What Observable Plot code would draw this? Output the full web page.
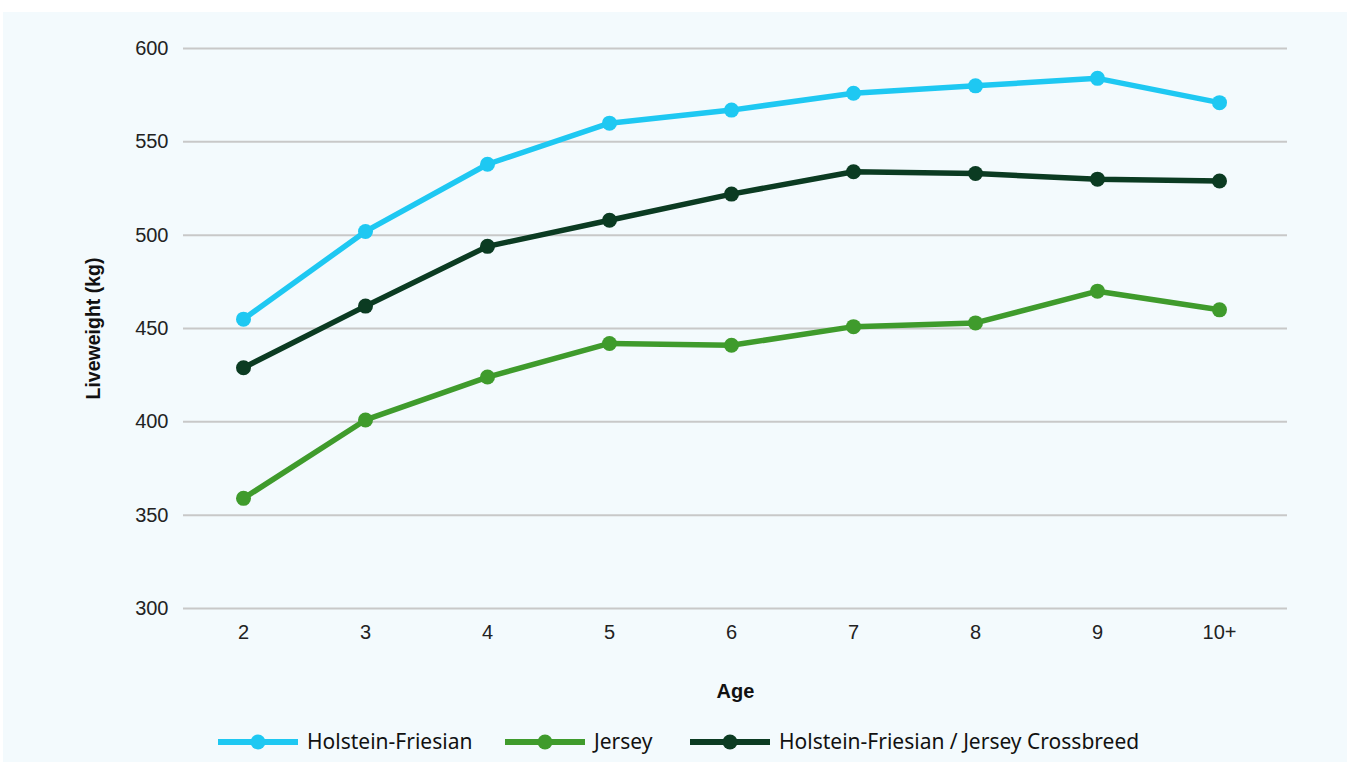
<!DOCTYPE html>
<html>
<head>
<meta charset="utf-8">
<script src="https://cdn.jsdelivr.net/npm/d3@7"></script>
<script src="https://cdn.jsdelivr.net/npm/@observablehq/plot@0.6"></script>
<style>
  html, body { margin: 0; padding: 0; background: #ffffff; }
  #panel { position: absolute; left: 3px; top: 12px; width: 1344px; height: 750px; background: #f3fafd; }
  #chart { position: absolute; left: -3px; top: 0; }
  #legend { position: absolute; left: -3px; top: 720px; width: 1347px; height: 20px; font-family: "Noto Sans", "Open Sans", sans-serif; font-size: 21px; color: #111; }
  .sw { position: absolute; top: 0; }
  .lab { position: absolute; top: -5px; line-height: 28px; white-space: nowrap; }
</style>
</head>
<body>
<div id="panel">
  <div id="chart"></div>
  <div id="legend"></div>
</div>
<script>
const ages = ["2", "3", "4", "5", "6", "7", "8", "9", "10+"];
const seriesNames = ["Holstein-Friesian", "Jersey", "Holstein-Friesian / Jersey Crossbreed"];
const holsteinFriesian = [455, 502, 538, 560, 567, 576, 580, 584, 571];
const jersey = [359, 401, 424, 442, 441, 451, 453, 470, 460];
const crossbreed = [429, 462, 494, 508, 522, 534, 533, 530, 529];
const colors = ["#1ec8f2", "#3f9b2c", "#0b3b22"];
const yTicks = [300, 350, 400, 450, 500, 550, 600];

const seriesValues = [holsteinFriesian, jersey, crossbreed];
const data = [];
seriesNames.forEach((name, i) => {
  ages.forEach((a, j) => data.push({series: name, age: a, value: seriesValues[i][j]}));
});

const plot = Plot.plot({
  width: 1347,
  height: 700,
  marginTop: 36,
  marginBottom: 104,
  marginLeft: 183,
  marginRight: 60,
  style: {background: "transparent", fontFamily: "'Liberation Sans', Arial, sans-serif", fontSize: "20px", color: "#222"},
  x: {type: "point", domain: ages, range: [242, 1220], padding: 0, label: null, tickSize: 0, tickPadding: 16},
  y: {domain: [300, 600], ticks: yTicks, label: null, tickSize: 0, tickPadding: 15},
  color: {domain: seriesNames, range: colors},
  marks: [
    Plot.ruleY(yTicks, {stroke: "#c8c8c8", strokeWidth: 2}),
    Plot.axisX({tickSize: 0, tickPadding: 16, fontSize: 20, label: null}),
    Plot.axisY({ticks: yTicks, tickSize: 0, tickPadding: 15, fontSize: 20, label: null}),
    Plot.line(data, {x: "age", y: "value", z: "series", stroke: "series", strokeWidth: 5.5}),
    Plot.dot(data, {x: "age", y: "value", fill: "series", r: 7.5}),
    Plot.text(["Age"], {frameAnchor: "bottom", dy: 89, fontWeight: "bold", fontSize: 20, fill: "#111"}),
    Plot.text(["Liveweight (kg)"], {y: () => 450, frameAnchor: "left", textAnchor: "middle", dx: -90, rotate: -90, fontWeight: "bold", fontSize: 19.5, fill: "#111"})
  ]
});
document.getElementById("chart").appendChild(plot);

const legend = document.getElementById("legend");
const swatchLeft = [218, 505, 690];
seriesNames.forEach((name, i) => {
  const sw = document.createElementNS("http://www.w3.org/2000/svg", "svg");
  sw.setAttribute("class", "sw");
  sw.setAttribute("width", "80");
  sw.setAttribute("height", "20");
  sw.style.left = swatchLeft[i] + "px";
  sw.innerHTML = `<line x1="0" y1="10" x2="80" y2="10" stroke="${colors[i]}" stroke-width="6"/><circle cx="40" cy="10" r="7.5" fill="${colors[i]}"/>`;
  legend.appendChild(sw);
  const lab = document.createElement("span");
  lab.className = "lab";
  lab.style.left = (swatchLeft[i] + 89) + "px";
  lab.textContent = name;
  legend.appendChild(lab);
});
</script>
</body>
</html>
